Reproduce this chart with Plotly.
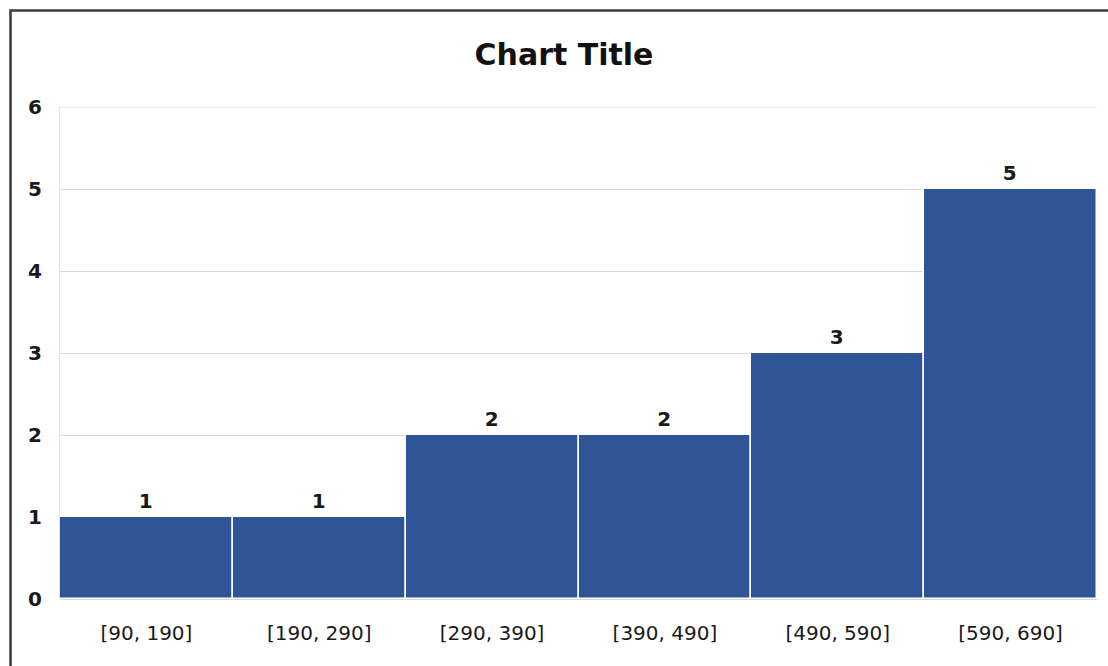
import plotly.graph_objects as go

categories = ["[90, 190]", "[190, 290]", "[290, 390]", "[390, 490]", "[490, 590]", "[590, 690]"]
counts = [1, 1, 2, 2, 3, 5]
y_ticks = [0, 1, 2, 3, 4, 5, 6]

FONT = "'DejaVu Sans', sans-serif"

fig = go.Figure(
    go.Bar(
        x=categories,
        y=counts,
        marker=dict(color="#2F5597", line=dict(color="white", width=1.5)),
        text=counts,
        textposition="outside",
        textfont=dict(family=FONT, size=20, color="#1a1a1a", weight="bold"),
        cliponaxis=False,
    )
)

W, H = 1108, 666
L, R, T, B = 60, 11, 107, 67
pw, ph = W - L - R, H - T - B

def px_to_paper_x(px):
    return (px - L) / pw

def px_to_paper_y(py):
    return (H - B - py) / ph

# chart-area border
fig.add_shape(
    type="rect", xref="paper", yref="paper",
    x0=px_to_paper_x(10.5), x1=px_to_paper_x(1130),
    y0=px_to_paper_y(700), y1=px_to_paper_y(10.5),
    line=dict(color="#3a3a3a", width=2.5), fillcolor="rgba(0,0,0,0)", layer="below",
)
# top gridline (plotly drops the gridline sitting on the plot edge)
fig.add_shape(
    type="line", xref="paper", yref="y", x0=0, x1=1, y0=y_ticks[-1], y1=y_ticks[-1],
    line=dict(color="#d9d9d9", width=1), layer="below",
)

fig.update_layout(
    width=W, height=H,
    margin=dict(l=L, r=R, t=T, b=B, pad=0),
    paper_bgcolor="white", plot_bgcolor="white",
    bargap=0,
    showlegend=False,
    title=dict(text="<b>Chart Title</b>", x=564 / W, xref="container", xanchor="center",
               y=(H - 54) / H, yanchor="middle",
               font=dict(family=FONT, size=30, color="#111")),
    font=dict(family=FONT, size=20, color="#222"),
    xaxis=dict(showgrid=False, showline=False, ticks="", tickfont=dict(size=20, color="#1a1a1a"),
               ticklabelstandoff=20),
    yaxis=dict(range=[0, 6], tickvals=y_ticks, showgrid=True, gridcolor="#d9d9d9", gridwidth=1,
               zeroline=True, zerolinecolor="#d9d9d9", showline=True, linecolor="#e3e3e3",
               linewidth=1, ticks="",
               tickfont=dict(size=20, color="#1a1a1a", weight="bold"), ticklabelstandoff=13),
)

fig.write_html("out.html")
